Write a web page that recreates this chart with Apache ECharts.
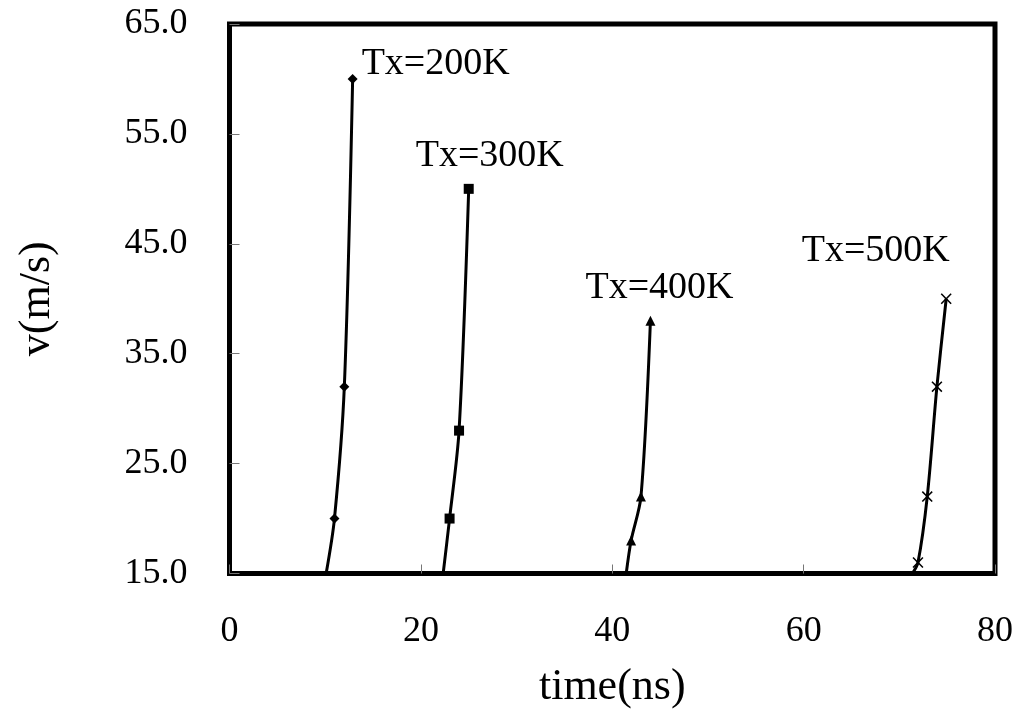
<!DOCTYPE html>
<html>
<head>
<meta charset="utf-8">
<script src="https://cdn.jsdelivr.net/npm/echarts@6/dist/echarts.min.js"></script>
<style>
html,body{margin:0;padding:0;background:#fff;}
#chart{width:1016px;height:724px;}
</style>
</head>
<body>
<div id="chart"></div>
<script>
// ---- data ----
const seriesNames = ['Tx=200K', 'Tx=300K', 'Tx=400K', 'Tx=500K'];
// [time(ns), v(m/s)] ; first point of each is where the curve meets the 15.0 axis
const t200 = [10.1, 10.97, 12.0, 12.87];
const v200 = [15, 20, 32, 60];
const t300 = [22.33, 23.0, 23.99, 25.0];
const v300 = [15, 20, 28, 50];
const t400 = [41.46, 41.97, 43.0, 43.99];
const v400 = [15, 18, 22, 38];
const t500 = [71.36, 71.95, 72.92, 73.93, 74.9];
const v500 = [15, 16, 22, 32, 40];
const xTicks = [0, 20, 40, 60, 80];
const yTicks = [15, 25, 35, 45, 55, 65];

// ---- styling ----
const FONT = '"Liberation Serif", "Times New Roman", serif';
const markers = [
  'diamond',
  'rect',
  'triangle',
  'path://M0,1 L1,0 L5,4 L9,0 L10,1 L6,5 L10,9 L9,10 L5,6 L1,10 L0,9 L4,5 Z'
];
const markerSizes = [10, 10, 10, 11];
const labelPos = [[14, -10], [-48, -28], [-60, -28], [-139, -42]];
const tsets = [t200, t300, t400, t500];
const vsets = [v200, v300, v400, v500];

const series = seriesNames.map((name, i) => {
  const ts = tsets[i], vs = vsets[i];
  const data = ts.map((t, j) => {
    const item = { value: [t, vs[j]] };
    if (j === 0 && vs[j] <= yTicks[0]) item.symbol = 'none';
    if (j === ts.length - 1) {
      item.label = {
        show: true,
        formatter: name,
        position: labelPos[i],
        align: 'left',
        verticalAlign: 'middle',
        fontFamily: FONT,
        fontSize: 38,
        color: '#000'
      };
    }
    return item;
  });
  return {
    name: name,
    type: 'line',
    data: data,
    smooth: 0.3,
    symbol: markers[i],
    symbolSize: markerSizes[i],
    showAllSymbol: true,
    lineStyle: { color: '#000', width: 3 },
    itemStyle: { color: '#000', borderWidth: 0 },
    label: { show: false },
    clip: true,
    animation: false,
    z: 3
  };
});

const chart = echarts.init(document.getElementById('chart'), null, { renderer: 'canvas' });
chart.setOption({
  backgroundColor: '#fff',
  animation: false,
  grid: {
    left: 229.5, right: 17, top: 24, bottom: 150.5,
    show: true, borderColor: '#000', borderWidth: 5, backgroundColor: 'transparent',
    containLabel: false
  },
  xAxis: {
    type: 'value',
    min: xTicks[0], max: xTicks[xTicks.length - 1], interval: 20,
    name: 'time(ns)', nameLocation: 'middle', nameGap: 92,
    nameTextStyle: { fontFamily: FONT, fontSize: 44, color: '#000' },
    axisLine: { show: false },
    axisTick: { show: true, inside: true, length: 9, lineStyle: { color: '#777', width: 1 } },
    axisLabel: { fontFamily: FONT, fontSize: 36, color: '#000', margin: 40 },
    splitLine: { show: false }
  },
  yAxis: {
    type: 'value',
    min: yTicks[0], max: yTicks[yTicks.length - 1], interval: 10,
    name: 'v(m/s)', nameLocation: 'middle', nameGap: 170, nameRotate: 90,
    nameTextStyle: { fontFamily: FONT, fontSize: 44, color: '#000' },
    axisLine: { show: false },
    axisTick: { show: true, inside: true, length: 10, lineStyle: { color: '#777', width: 1 } },
    axisLabel: { fontFamily: FONT, fontSize: 36, color: '#000', margin: 42,
      formatter: v => v.toFixed(1) },
    splitLine: { show: false }
  },
  series: series
});
</script>
</body>
</html>
